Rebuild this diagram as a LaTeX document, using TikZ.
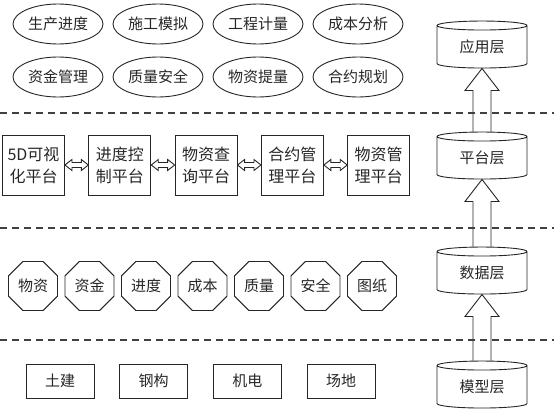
\documentclass[tikz,border=0pt]{standalone}
\usepackage{fontspec}
\usetikzlibrary{shapes.geometric,calc,positioning}
\newfontfamily\cjk{Noto Sans CJK SC}

\begin{document}
\begin{tikzpicture}[x=1pt,y=-1pt,line width=0.9pt,color=black!85,
        every node/.style={font=\cjk\fontsize{15}{21}\selectfont},
        bubble/.style={draw, ellipse, minimum width=90pt, minimum height=40pt, inner sep=0pt, node distance=100pt},
        plat/.style={draw, rectangle, minimum width=62pt, minimum height=60pt, inner sep=0pt, align=center, font=\cjk\fontsize{16}{22}\selectfont, node distance=86.3pt},
        data/.style={draw, regular polygon, regular polygon sides=8, minimum size=53pt, inner sep=0pt, node distance=56.5pt},
        model/.style={draw, rectangle, minimum width=68pt, minimum height=34pt, inner sep=0pt, node distance=93.7pt},
        layer/.style={draw, cylinder, shape border rotate=90, aspect=0.2, minimum width=90pt, minimum height=47pt, inner sep=0pt},
        sep/.style={dash pattern=on 7pt off 5pt, line width=1.3pt, black!75},
        link/.style={to path={let \p1=(\tikztostart), \p2=(\tikztotarget) in
            (\x1,\y1) -- (\x1+7pt,\y1+5.5pt) -- (\x1+7pt,\y1+2.5pt) -- (\x2-7pt,\y1+2.5pt) -- (\x2-7pt,\y1+5.5pt) -- (\x2,\y1)
            -- (\x2-7pt,\y1-5.5pt) -- (\x2-7pt,\y1-2.5pt) -- (\x1+7pt,\y1-2.5pt) -- (\x1+7pt,\y1-5.5pt) -- cycle}},
        up/.style={to path={let \p1=(\tikztostart), \p2=(\tikztotarget) in
            (\x1-9pt,\y1) -- (\x1-9pt,\y2-22pt) -- (\x1-17pt,\y2-22pt) -- (\x1,\y2) -- (\x1+17pt,\y2-22pt) -- (\x1+9pt,\y2-22pt) -- (\x1+9pt,\y1)}}]
        \useasboundingbox (0,0) rectangle (554,415);
        % application layer
        \node[bubble] (a1) at (58,24) {生产进度};
        \node[bubble] (a2) [right of=a1] {施工模拟};
        \node[bubble] (a3) [right of=a2] {工程计量};
        \node[bubble] (a4) [right of=a3] {成本分析};
        \node[bubble] (a5) at (58,77) {资金管理};
        \node[bubble] (a6) [right of=a5] {质量安全};
        \node[bubble] (a7) [right of=a6] {物资提量};
        \node[bubble] (a8) [right of=a7] {合约规划};
        % platform layer
        \node[plat] (p1) at (33.5,165) {5D可视\\化平台};
        \node[plat] (p2) [right of=p1] {进度控\\制平台};
        \node[plat] (p3) [right of=p2] {物资查\\询平台};
        \node[plat] (p4) [right of=p3] {合约管\\理平台};
        \node[plat] (p5) [right of=p4] {物资管\\理平台};
        \draw[link] (p1.east) to (p2.west);
        \draw[link] (p2.east) to (p3.west);
        \draw[link] (p3.east) to (p4.west);
        \draw[link] (p4.east) to (p5.west);
        % data layer
        \node[data] (d1) at (33,286) {物资};
        \node[data] (d2) [right of=d1] {资金};
        \node[data] (d3) [right of=d2] {进度};
        \node[data] (d4) [right of=d3] {成本};
        \node[data] (d5) [right of=d4] {质量};
        \node[data] (d6) [right of=d5] {安全};
        \node[data] (d7) [right of=d6] {图纸};
        % model layer
        \node[model] (m1) at (60,381) {土建};
        \node[model] (m2) [right of=m1] {钢构};
        \node[model] (m3) [right of=m2] {机电};
        \node[model] (m4) [right of=m3] {场地};
        % layers
        \node[layer] (L1) at (482,47) {应用层};
        \node[layer] (L2) at (482,158) {平台层};
        \node[layer] (L3) at (482,273) {数据层};
        \node[layer] (L4) at (482,387) {模型层};
        \draw[up] (L2.north) to (L1.south);
        \draw[up] (L3.north) to (L2.south);
        \draw[up] (L4.north) to (L3.south);
        \draw[sep] (0,113) -- (554,113);
        \draw[sep] (0,228) -- (554,228);
        \draw[sep] (0,340) -- (554,340);
\end{tikzpicture}
\end{document}
